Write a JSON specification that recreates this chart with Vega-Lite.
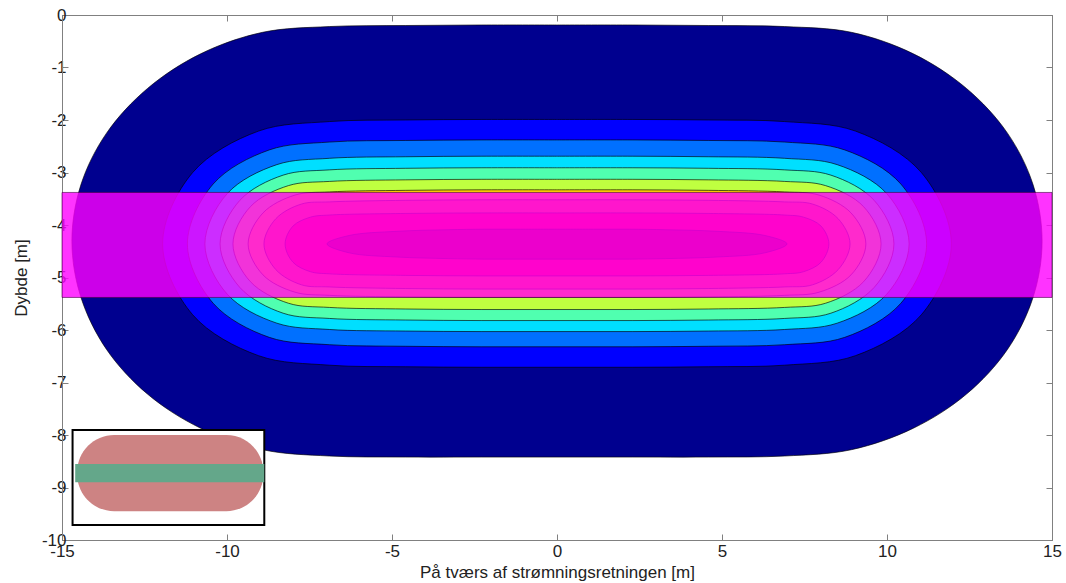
{
  "$schema": "https://vega.github.io/schema/vega-lite/v6.json",
  "width": 990,
  "height": 525,
  "autosize": "none",
  "padding": {"left": 62, "top": 15, "right": 14, "bottom": 43},
  "background": "white",
  "config": {
    "view": {"stroke": "#808080", "strokeWidth": 1},
    "font": "Liberation Sans",
    "axis": {
      "grid": false,
      "domainColor": "#808080",
      "tickColor": "#808080",
      "labelColor": "#222222",
      "titleColor": "#222222",
      "labelFont": "Liberation Sans",
      "titleFont": "Liberation Sans",
      "labelFontSize": 17,
      "titleFontSize": 17,
      "titleFontWeight": "normal",
      "labelOverlap": false,
      "labelFlush": false
    }
  },
  "datasets": {
    "contours": [
      {"lev":"L01","i":1,"x":0,"y":-0.19},{"lev":"L01","i":2,"x":2.3,"y":-0.19},{"lev":"L01","i":3,"x":4.6,"y":-0.2},{"lev":"L01","i":4,"x":6.9,"y":-0.22},
      {"lev":"L01","i":5,"x":8.92,"y":-0.33},{"lev":"L01","i":6,"x":10.8,"y":-0.74},{"lev":"L01","i":7,"x":12.41,"y":-1.4},{"lev":"L01","i":8,"x":13.65,"y":-2.25},{"lev":"L01","i":9,"x":14.43,"y":-3.24},
      {"lev":"L01","i":10,"x":14.7,"y":-4.31},
      {"lev":"L01","i":11,"x":14.43,"y":-5.37},{"lev":"L01","i":12,"x":13.65,"y":-6.37},{"lev":"L01","i":13,"x":12.41,"y":-7.22},{"lev":"L01","i":14,"x":10.8,"y":-7.87},{"lev":"L01","i":15,"x":8.92,"y":-8.28},
      {"lev":"L01","i":16,"x":6.9,"y":-8.4},{"lev":"L01","i":17,"x":4.6,"y":-8.42},{"lev":"L01","i":18,"x":2.3,"y":-8.42},{"lev":"L01","i":19,"x":0,"y":-8.42},
      {"lev":"L01","i":20,"x":-2.3,"y":-8.42},{"lev":"L01","i":21,"x":-4.6,"y":-8.42},{"lev":"L01","i":22,"x":-6.9,"y":-8.4},
      {"lev":"L01","i":23,"x":-8.92,"y":-8.28},{"lev":"L01","i":24,"x":-10.8,"y":-7.87},{"lev":"L01","i":25,"x":-12.41,"y":-7.22},{"lev":"L01","i":26,"x":-13.65,"y":-6.37},{"lev":"L01","i":27,"x":-14.43,"y":-5.37},
      {"lev":"L01","i":28,"x":-14.7,"y":-4.31},
      {"lev":"L01","i":29,"x":-14.43,"y":-3.24},{"lev":"L01","i":30,"x":-13.65,"y":-2.25},{"lev":"L01","i":31,"x":-12.41,"y":-1.4},{"lev":"L01","i":32,"x":-10.8,"y":-0.74},{"lev":"L01","i":33,"x":-8.92,"y":-0.33},
      {"lev":"L01","i":34,"x":-6.9,"y":-0.22},{"lev":"L01","i":35,"x":-4.6,"y":-0.2},{"lev":"L01","i":36,"x":-2.3,"y":-0.19},{"lev":"L01","i":37,"x":0,"y":-0.19},

      {"lev":"L02","i":1,"x":0,"y":-1.99},{"lev":"L02","i":2,"x":2.3,"y":-1.99},{"lev":"L02","i":3,"x":4.6,"y":-2.0},{"lev":"L02","i":4,"x":6.9,"y":-2.03},
      {"lev":"L02","i":5,"x":9.04,"y":-2.21},{"lev":"L02","i":6,"x":11.04,"y":-3.0},{"lev":"L02","i":7,"x":11.95,"y":-4.36},{"lev":"L02","i":8,"x":11.04,"y":-5.71},{"lev":"L02","i":9,"x":9.04,"y":-6.49},
      {"lev":"L02","i":10,"x":6.9,"y":-6.67},{"lev":"L02","i":11,"x":4.6,"y":-6.7},{"lev":"L02","i":12,"x":2.3,"y":-6.71},{"lev":"L02","i":13,"x":0,"y":-6.71},{"lev":"L02","i":14,"x":-2.3,"y":-6.71},{"lev":"L02","i":15,"x":-4.6,"y":-6.7},{"lev":"L02","i":16,"x":-6.9,"y":-6.67},
      {"lev":"L02","i":17,"x":-9.04,"y":-6.49},{"lev":"L02","i":18,"x":-11.04,"y":-5.71},{"lev":"L02","i":19,"x":-11.95,"y":-4.36},{"lev":"L02","i":20,"x":-11.04,"y":-3.0},{"lev":"L02","i":21,"x":-9.04,"y":-2.21},
      {"lev":"L02","i":22,"x":-6.9,"y":-2.03},{"lev":"L02","i":23,"x":-4.6,"y":-2.0},{"lev":"L02","i":24,"x":-2.3,"y":-1.99},{"lev":"L02","i":25,"x":0,"y":-1.99},

      {"lev":"L03","i":1,"x":0,"y":-2.38},{"lev":"L03","i":2,"x":2.3,"y":-2.38},{"lev":"L03","i":3,"x":4.6,"y":-2.39},{"lev":"L03","i":4,"x":6.9,"y":-2.42},
      {"lev":"L03","i":5,"x":8.72,"y":-2.57},{"lev":"L03","i":6,"x":10.42,"y":-3.22},{"lev":"L03","i":7,"x":11.2,"y":-4.36},{"lev":"L03","i":8,"x":10.42,"y":-5.49},{"lev":"L03","i":9,"x":8.72,"y":-6.14},
      {"lev":"L03","i":10,"x":6.9,"y":-6.28},{"lev":"L03","i":11,"x":4.6,"y":-6.31},{"lev":"L03","i":12,"x":2.3,"y":-6.32},{"lev":"L03","i":13,"x":0,"y":-6.32},{"lev":"L03","i":14,"x":-2.3,"y":-6.32},{"lev":"L03","i":15,"x":-4.6,"y":-6.31},{"lev":"L03","i":16,"x":-6.9,"y":-6.28},
      {"lev":"L03","i":17,"x":-8.72,"y":-6.14},{"lev":"L03","i":18,"x":-10.42,"y":-5.49},{"lev":"L03","i":19,"x":-11.2,"y":-4.36},{"lev":"L03","i":20,"x":-10.42,"y":-3.22},{"lev":"L03","i":21,"x":-8.72,"y":-2.57},
      {"lev":"L03","i":22,"x":-6.9,"y":-2.42},{"lev":"L03","i":23,"x":-4.6,"y":-2.39},{"lev":"L03","i":24,"x":-2.3,"y":-2.38},{"lev":"L03","i":25,"x":0,"y":-2.38},

      {"lev":"L04","i":1,"x":0,"y":-2.69},{"lev":"L04","i":2,"x":2.3,"y":-2.69},{"lev":"L04","i":3,"x":4.6,"y":-2.7},{"lev":"L04","i":4,"x":6.9,"y":-2.73},
      {"lev":"L04","i":5,"x":8.49,"y":-2.85},{"lev":"L04","i":6,"x":9.99,"y":-3.4},{"lev":"L04","i":7,"x":10.67,"y":-4.36},{"lev":"L04","i":8,"x":9.99,"y":-5.32},{"lev":"L04","i":9,"x":8.49,"y":-5.87},
      {"lev":"L04","i":10,"x":6.9,"y":-5.99},{"lev":"L04","i":11,"x":4.6,"y":-6.02},{"lev":"L04","i":12,"x":2.3,"y":-6.03},{"lev":"L04","i":13,"x":0,"y":-6.03},{"lev":"L04","i":14,"x":-2.3,"y":-6.03},{"lev":"L04","i":15,"x":-4.6,"y":-6.02},{"lev":"L04","i":16,"x":-6.9,"y":-5.99},
      {"lev":"L04","i":17,"x":-8.49,"y":-5.87},{"lev":"L04","i":18,"x":-9.99,"y":-5.32},{"lev":"L04","i":19,"x":-10.67,"y":-4.36},{"lev":"L04","i":20,"x":-9.99,"y":-3.4},{"lev":"L04","i":21,"x":-8.49,"y":-2.85},
      {"lev":"L04","i":22,"x":-6.9,"y":-2.73},{"lev":"L04","i":23,"x":-4.6,"y":-2.7},{"lev":"L04","i":24,"x":-2.3,"y":-2.69},{"lev":"L04","i":25,"x":0,"y":-2.69},

      {"lev":"L05","i":1,"x":0,"y":-2.91},{"lev":"L05","i":2,"x":2.3,"y":-2.91},{"lev":"L05","i":3,"x":4.6,"y":-2.92},{"lev":"L05","i":4,"x":6.9,"y":-2.95},
      {"lev":"L05","i":5,"x":8.3,"y":-3.05},{"lev":"L05","i":6,"x":9.61,"y":-3.53},{"lev":"L05","i":7,"x":10.21,"y":-4.36},{"lev":"L05","i":8,"x":9.61,"y":-5.19},{"lev":"L05","i":9,"x":8.3,"y":-5.68},
      {"lev":"L05","i":10,"x":6.9,"y":-5.78},{"lev":"L05","i":11,"x":4.6,"y":-5.81},{"lev":"L05","i":12,"x":2.3,"y":-5.82},{"lev":"L05","i":13,"x":0,"y":-5.82},{"lev":"L05","i":14,"x":-2.3,"y":-5.82},{"lev":"L05","i":15,"x":-4.6,"y":-5.81},{"lev":"L05","i":16,"x":-6.9,"y":-5.78},
      {"lev":"L05","i":17,"x":-8.3,"y":-5.68},{"lev":"L05","i":18,"x":-9.61,"y":-5.19},{"lev":"L05","i":19,"x":-10.21,"y":-4.36},{"lev":"L05","i":20,"x":-9.61,"y":-3.53},{"lev":"L05","i":21,"x":-8.3,"y":-3.05},
      {"lev":"L05","i":22,"x":-6.9,"y":-2.95},{"lev":"L05","i":23,"x":-4.6,"y":-2.92},{"lev":"L05","i":24,"x":-2.3,"y":-2.91},{"lev":"L05","i":25,"x":0,"y":-2.91},

      {"lev":"L06","i":1,"x":0,"y":-3.13},{"lev":"L06","i":2,"x":2.3,"y":-3.13},{"lev":"L06","i":3,"x":4.6,"y":-3.14},{"lev":"L06","i":4,"x":6.9,"y":-3.17},
      {"lev":"L06","i":5,"x":8.14,"y":-3.25},{"lev":"L06","i":6,"x":9.29,"y":-3.65},{"lev":"L06","i":7,"x":9.82,"y":-4.36},{"lev":"L06","i":8,"x":9.29,"y":-5.08},{"lev":"L06","i":9,"x":8.14,"y":-5.49},
      {"lev":"L06","i":10,"x":6.9,"y":-5.57},{"lev":"L06","i":11,"x":4.6,"y":-5.6},{"lev":"L06","i":12,"x":2.3,"y":-5.61},{"lev":"L06","i":13,"x":0,"y":-5.61},{"lev":"L06","i":14,"x":-2.3,"y":-5.61},{"lev":"L06","i":15,"x":-4.6,"y":-5.6},{"lev":"L06","i":16,"x":-6.9,"y":-5.57},
      {"lev":"L06","i":17,"x":-8.14,"y":-5.49},{"lev":"L06","i":18,"x":-9.29,"y":-5.08},{"lev":"L06","i":19,"x":-9.82,"y":-4.36},{"lev":"L06","i":20,"x":-9.29,"y":-3.65},{"lev":"L06","i":21,"x":-8.14,"y":-3.25},
      {"lev":"L06","i":22,"x":-6.9,"y":-3.17},{"lev":"L06","i":23,"x":-4.6,"y":-3.14},{"lev":"L06","i":24,"x":-2.3,"y":-3.13},{"lev":"L06","i":25,"x":0,"y":-3.13},

      {"lev":"L07","i":1,"x":0,"y":-3.33},{"lev":"L07","i":2,"x":2.3,"y":-3.33},{"lev":"L07","i":3,"x":4.6,"y":-3.34},{"lev":"L07","i":4,"x":6.9,"y":-3.37},
      {"lev":"L07","i":5,"x":7.94,"y":-3.43},{"lev":"L07","i":6,"x":8.91,"y":-3.77},{"lev":"L07","i":7,"x":9.36,"y":-4.36},{"lev":"L07","i":8,"x":8.91,"y":-4.95},{"lev":"L07","i":9,"x":7.94,"y":-5.28},
      {"lev":"L07","i":10,"x":6.9,"y":-5.34},{"lev":"L07","i":11,"x":4.6,"y":-5.37},{"lev":"L07","i":12,"x":2.3,"y":-5.38},{"lev":"L07","i":13,"x":0,"y":-5.38},{"lev":"L07","i":14,"x":-2.3,"y":-5.38},{"lev":"L07","i":15,"x":-4.6,"y":-5.37},{"lev":"L07","i":16,"x":-6.9,"y":-5.34},
      {"lev":"L07","i":17,"x":-7.94,"y":-5.28},{"lev":"L07","i":18,"x":-8.91,"y":-4.95},{"lev":"L07","i":19,"x":-9.36,"y":-4.36},{"lev":"L07","i":20,"x":-8.91,"y":-3.77},{"lev":"L07","i":21,"x":-7.94,"y":-3.43},
      {"lev":"L07","i":22,"x":-6.9,"y":-3.37},{"lev":"L07","i":23,"x":-4.6,"y":-3.34},{"lev":"L07","i":24,"x":-2.3,"y":-3.33},{"lev":"L07","i":25,"x":0,"y":-3.33},

      {"lev":"L08","i":1,"x":0,"y":-3.52},{"lev":"L08","i":2,"x":2.3,"y":-3.52},{"lev":"L08","i":3,"x":4.6,"y":-3.53},{"lev":"L08","i":4,"x":6.9,"y":-3.56},
      {"lev":"L08","i":5,"x":7.74,"y":-3.6},{"lev":"L08","i":6,"x":8.52,"y":-3.88},{"lev":"L08","i":7,"x":8.88,"y":-4.36},{"lev":"L08","i":8,"x":8.52,"y":-4.85},{"lev":"L08","i":9,"x":7.74,"y":-5.14},
      {"lev":"L08","i":10,"x":6.9,"y":-5.18},{"lev":"L08","i":11,"x":4.6,"y":-5.21},{"lev":"L08","i":12,"x":2.3,"y":-5.22},{"lev":"L08","i":13,"x":0,"y":-5.22},{"lev":"L08","i":14,"x":-2.3,"y":-5.22},{"lev":"L08","i":15,"x":-4.6,"y":-5.21},{"lev":"L08","i":16,"x":-6.9,"y":-5.18},
      {"lev":"L08","i":17,"x":-7.74,"y":-5.14},{"lev":"L08","i":18,"x":-8.52,"y":-4.85},{"lev":"L08","i":19,"x":-8.88,"y":-4.36},{"lev":"L08","i":20,"x":-8.52,"y":-3.88},{"lev":"L08","i":21,"x":-7.74,"y":-3.6},
      {"lev":"L08","i":22,"x":-6.9,"y":-3.56},{"lev":"L08","i":23,"x":-4.6,"y":-3.53},{"lev":"L08","i":24,"x":-2.3,"y":-3.52},{"lev":"L08","i":25,"x":0,"y":-3.52},

      {"lev":"L09","i":1,"x":0,"y":-3.77},{"lev":"L09","i":2,"x":2.3,"y":-3.77},{"lev":"L09","i":3,"x":4.6,"y":-3.78},{"lev":"L09","i":4,"x":6.9,"y":-3.81},
      {"lev":"L09","i":5,"x":7.47,"y":-3.85},{"lev":"L09","i":6,"x":8.0,"y":-4.02},{"lev":"L09","i":7,"x":8.24,"y":-4.36},{"lev":"L09","i":8,"x":8.0,"y":-4.71},{"lev":"L09","i":9,"x":7.47,"y":-4.89},
      {"lev":"L09","i":10,"x":6.9,"y":-4.93},{"lev":"L09","i":11,"x":4.6,"y":-4.96},{"lev":"L09","i":12,"x":2.3,"y":-4.97},{"lev":"L09","i":13,"x":0,"y":-4.97},{"lev":"L09","i":14,"x":-2.3,"y":-4.97},{"lev":"L09","i":15,"x":-4.6,"y":-4.96},{"lev":"L09","i":16,"x":-6.9,"y":-4.93},
      {"lev":"L09","i":17,"x":-7.47,"y":-4.89},{"lev":"L09","i":18,"x":-8.0,"y":-4.71},{"lev":"L09","i":19,"x":-8.24,"y":-4.36},{"lev":"L09","i":20,"x":-8.0,"y":-4.02},{"lev":"L09","i":21,"x":-7.47,"y":-3.85},
      {"lev":"L09","i":22,"x":-6.9,"y":-3.81},{"lev":"L09","i":23,"x":-4.6,"y":-3.78},{"lev":"L09","i":24,"x":-2.3,"y":-3.77},{"lev":"L09","i":25,"x":0,"y":-3.77},

      {"lev":"L10","i":1,"x":0,"y":-4.08},{"lev":"L10","i":2,"x":1.1,"y":-4.08},{"lev":"L10","i":3,"x":2.2,"y":-4.08},{"lev":"L10","i":4,"x":3.3,"y":-4.09},
      {"lev":"L10","i":5,"x":4.85,"y":-4.12},{"lev":"L10","i":6,"x":6.3,"y":-4.2},{"lev":"L10","i":7,"x":6.97,"y":-4.36},{"lev":"L10","i":8,"x":6.3,"y":-4.53},{"lev":"L10","i":9,"x":4.85,"y":-4.61},
      {"lev":"L10","i":10,"x":3.3,"y":-4.64},{"lev":"L10","i":11,"x":2.2,"y":-4.65},{"lev":"L10","i":12,"x":1.1,"y":-4.65},{"lev":"L10","i":13,"x":0,"y":-4.65},{"lev":"L10","i":14,"x":-1.1,"y":-4.65},{"lev":"L10","i":15,"x":-2.2,"y":-4.65},{"lev":"L10","i":16,"x":-3.3,"y":-4.64},
      {"lev":"L10","i":17,"x":-4.85,"y":-4.61},{"lev":"L10","i":18,"x":-6.3,"y":-4.53},{"lev":"L10","i":19,"x":-6.97,"y":-4.36},{"lev":"L10","i":20,"x":-6.3,"y":-4.2},{"lev":"L10","i":21,"x":-4.85,"y":-4.12},
      {"lev":"L10","i":22,"x":-3.3,"y":-4.09},{"lev":"L10","i":23,"x":-2.2,"y":-4.08},{"lev":"L10","i":24,"x":-1.1,"y":-4.08},{"lev":"L10","i":25,"x":0,"y":-4.08}
    ],
    "band": [{"x": -15, "x2": 15, "y": -3.38, "y2": -5.38}],
    "insetBox": [{"x": -14.68, "x2": -8.87, "y": -7.905, "y2": -9.714}],
    "insetShape": [{"x": -14.54, "x2": -8.9, "y": -8.0, "y2": -9.45}],
    "insetBand": [{"x": -14.6, "x2": -8.87, "y": -8.552, "y2": -8.9}]
  },
  "layer": [
    {
      "data": {"name": "contours"},
      "mark": {"type": "line", "interpolate": "catmull-rom", "stroke": "#000000", "strokeWidth": 0.8, "strokeOpacity": 0.8},
      "encoding": {
        "x": {
          "field": "x", "type": "quantitative",
          "scale": {"domain": [-15, 15], "nice": false, "zero": false},
          "axis": {
            "orient": "bottom",
            "values": [-15, -10, -5, 0, 5, 10, 15],
            "tickSize": -6,
            "labelPadding": 9,
            "labelExpr": "replace(datum.label, '−', '-')",
            "title": "På tværs af strømningsretningen [m]",
            "titlePadding": 5
          }
        },
        "y": {
          "field": "y", "type": "quantitative",
          "scale": {"domain": [-10, 0], "nice": false, "zero": false},
          "axis": {
            "orient": "left",
            "values": [0, -1, -2, -3, -4, -5, -6, -7, -8, -9, -10],
            "tickSize": -6,
            "labelPadding": 2,
            "labelExpr": "replace(datum.label, '−', '-')",
            "title": "Dybde [m]",
            "titlePadding": 11
          }
        },
        "order": {"field": "i", "type": "quantitative"},
        "detail": {"field": "lev", "type": "nominal"},
        "fill": {
          "field": "lev", "type": "nominal", "legend": null,
          "scale": {
            "domain": ["L01", "L02", "L03", "L04", "L05", "L06", "L07", "L08", "L09", "L10"],
            "range": ["#00008F", "#0000FF", "#0070FF", "#00DFFF", "#50FFB0", "#BFFF40", "#FFD000", "#FF7000", "#FF1000", "#A00000"]
          }
        }
      }
    },
    {
      "data": {"name": "band"},
      "mark": {"type": "rect", "fill": "#FF00FF", "fillOpacity": 0.8, "stroke": "#400040", "strokeWidth": 0.6},
      "encoding": {
        "x": {"field": "x", "type": "quantitative", "axis": {"orient": "top", "values": [-15, -10, -5, 0, 5, 10, 15], "tickSize": -6, "labels": false, "title": null}},
        "x2": {"field": "x2"},
        "y": {"field": "y", "type": "quantitative", "axis": {"orient": "right", "values": [0, -1, -2, -3, -4, -5, -6, -7, -8, -9, -10], "tickSize": -6, "labels": false, "title": null}},
        "y2": {"field": "y2"}
      }
    },
    {
      "data": {"name": "insetBox"},
      "mark": {"type": "rect", "fill": "#FFFFFF", "stroke": "#000000", "strokeWidth": 2},
      "encoding": {
        "x": {"field": "x", "type": "quantitative", "axis": null},
        "x2": {"field": "x2"},
        "y": {"field": "y", "type": "quantitative", "axis": null},
        "y2": {"field": "y2"}
      }
    },
    {
      "data": {"name": "insetShape"},
      "mark": {"type": "rect", "fill": "#CD8383", "cornerRadius": 37},
      "encoding": {
        "x": {"field": "x", "type": "quantitative", "axis": null},
        "x2": {"field": "x2"},
        "y": {"field": "y", "type": "quantitative", "axis": null},
        "y2": {"field": "y2"}
      }
    },
    {
      "data": {"name": "insetBand"},
      "mark": {"type": "rect", "fill": "#64A78A"},
      "encoding": {
        "x": {"field": "x", "type": "quantitative", "axis": null},
        "x2": {"field": "x2"},
        "y": {"field": "y", "type": "quantitative", "axis": null},
        "y2": {"field": "y2"}
      }
    }
  ],
  "resolve": {"axis": {"x": "independent", "y": "independent"}}
}
